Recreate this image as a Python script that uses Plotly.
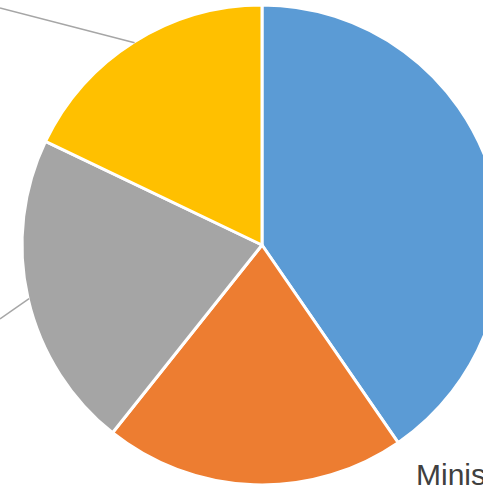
import math
import plotly.graph_objects as go

# ---- data ----
categories = ["Ministerio de Educación", "Ministerio de Salud", "Ministerio de Trabajo", "Otros"]
values = [40.4, 20.3, 21.4, 17.9]
colors = ["#5B9BD5", "#ED7D31", "#A5A5A5", "#FFC000"]

# ---- geometry (pixels) ----
W, H = 540, 485
cx, cy, r = 262, 245, 240

fig = go.Figure(go.Pie(
    labels=categories,
    values=values,
    sort=False,
    direction="clockwise",
    rotation=0,
    marker=dict(colors=colors, line=dict(color="white", width=3)),
    textinfo="none",
    hoverinfo="label+percent",
    showlegend=False,
    domain=dict(x=[(cx - r) / W, (cx + r) / W], y=[(H - cy - r) / H, (H - cy + r) / H]),
))

# leader lines from slice midpoints (computed from data) to off-canvas labels
total = sum(values)
cum = 0
mids = []
for v in values:
    mids.append((cum + v / 2) / total * 2 * math.pi)
    cum += v

label_ends = {2: (0, 319), 3: (0, 8)}
shapes = []
for i, (ex, ey) in label_ends.items():
    a = mids[i]
    sx = cx + (r - 1) * math.sin(a)
    sy = cy - (r - 1) * math.cos(a)
    shapes.append(dict(type="line", xref="paper", yref="paper",
                       x0=sx / W, y0=1 - sy / H, x1=ex / W, y1=1 - ey / H,
                       line=dict(color="#A6A6A6", width=1.5)))

annotations = [dict(text="Ministerio", xref="paper", yref="paper",
                    x=414 / W, y=1 - 474 / H, xanchor="left", yanchor="middle",
                    showarrow=False,
                    font=dict(family="Liberation Sans, Arial", size=30, color="#404040"))]

fig.update_layout(
    width=W, height=H, autosize=False,
    margin=dict(l=0, r=0, t=0, b=0),
    paper_bgcolor="white", plot_bgcolor="white",
    shapes=shapes, annotations=annotations,
)

fig.write_html("out.html",
               post_script="document.body.style.margin='0';document.body.style.overflow='hidden';document.documentElement.style.overflow='hidden';")
